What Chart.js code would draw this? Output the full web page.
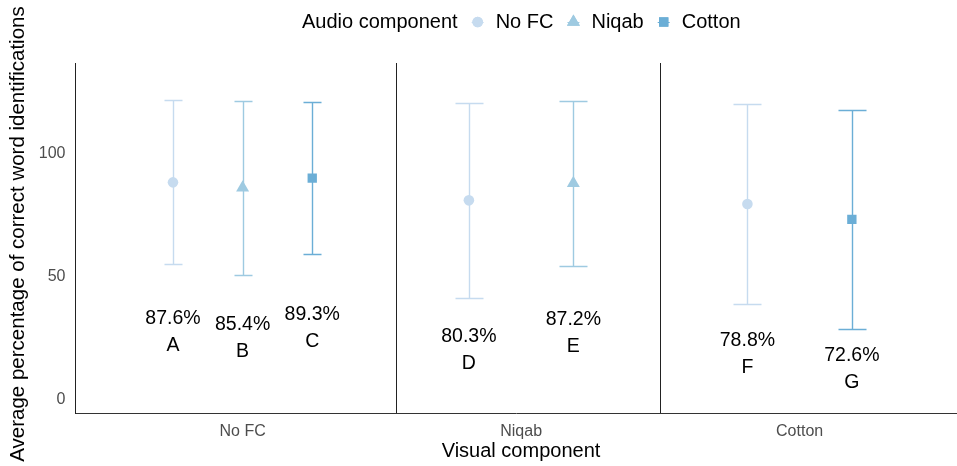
<!DOCTYPE html>
<html>
<head>
<meta charset="utf-8">
<script src="https://cdn.jsdelivr.net/npm/chart.js@4/dist/chart.umd.min.js"></script>
<style>
  html, body { margin: 0; padding: 0; background: #ffffff; }
  #chart { display: block; }
</style>
</head>
<body>
<canvas id="chart" width="957" height="466"></canvas>
<script>
// Categories
const visualCategories = ['No FC', 'Niqab', 'Cotton'];
const audioGroups = ['No FC', 'Niqab', 'Cotton'];

// One entry per cell (visual x audio) that exists in the study
const cellVisual = [0, 0, 0, 1, 1, 2, 2];
const cellAudio = [0, 1, 2, 0, 1, 0, 2];
const cellMean = [87.6, 85.4, 89.3, 80.3, 87.2, 78.8, 72.6];
const cellSd = [33.3, 35.3, 30.9, 39.6, 33.4, 40.7, 44.5];
const cellLetter = ['A', 'B', 'C', 'D', 'E', 'F', 'G'];

// Axis ticks and divider lines
const yTicks = [0, 50, 100];
const separatorPositions = [1.55, 2.5];

const groupColors = ['#c6dbef', '#9ecae1', '#6baed6'];
const groupStyles = ['circle', 'triangle', 'rect'];
const groupRadius = [5.3, 7.5, 6.6];
const FONT = '"Liberation Sans", Arial, sans-serif';
const DODGE = 0.75;
const ERR_WIDTH = 0.2;

// dodge position for each cell, like ggplot position_dodge
function dodgeInfo(i) {
    const v = cellVisual[i];
    const members = [];
    cellVisual.forEach((cv, j) => { if (cv === v) members.push(j); });
    const n = members.length;
    const k = members.indexOf(i);
    return { x: v + 1 + (k - (n - 1) / 2) * (DODGE / n), n: n };
}

const datasets = audioGroups.map((name, g) => {
    const pts = [];
    cellAudio.forEach((a, i) => {
        if (a === g) pts.push({ x: dodgeInfo(i).x, y: cellMean[i], cell: i });
    });
    return {
        label: name,
        data: pts,
        pointStyle: groupStyles[g],
        pointRadius: groupRadius[g],
        pointBackgroundColor: groupColors[g],
        pointBorderColor: groupColors[g],
        pointBorderWidth: 0,
        showLine: false
    };
});

const errorBars = {
    id: 'errorBars',
    beforeDatasetsDraw(chart) {
        const { ctx, scales: { x, y } } = chart;
        ctx.save();
        ctx.lineWidth = 1.4;
        cellMean.forEach((m, i) => {
            const d = dodgeInfo(i);
            const px = Math.round(x.getPixelForValue(d.x)) + 0.5;
            const half = Math.round(x.getPixelForValue(ERR_WIDTH / 2 / d.n) - x.getPixelForValue(0));
            const top = Math.round(y.getPixelForValue(m + cellSd[i])) + 0.5;
            const bot = Math.round(y.getPixelForValue(m - cellSd[i])) + 0.5;
            ctx.strokeStyle = groupColors[cellAudio[i]];
            ctx.beginPath();
            ctx.moveTo(px, top); ctx.lineTo(px, bot);
            ctx.moveTo(px - half, top); ctx.lineTo(px + half, top);
            ctx.moveTo(px - half, bot); ctx.lineTo(px + half, bot);
            ctx.stroke();
        });
        ctx.restore();
    }
};

const decorations = {
    id: 'decorations',
    afterDraw(chart) {
        const { ctx, chartArea, scales: { x, y } } = chart;
        ctx.save();

        // panel dividers
        ctx.strokeStyle = '#222';
        ctx.lineWidth = 1;
        separatorPositions.forEach(v => {
            const px = Math.round(x.getPixelForValue(v)) + 0.5;
            ctx.beginPath();
            ctx.moveTo(px, chartArea.top);
            ctx.lineTo(px, chartArea.bottom);
            ctx.stroke();
        });

        // value + letter labels under each bar
        ctx.fillStyle = '#000';
        ctx.font = '19.5px ' + FONT;
        ctx.textAlign = 'center';
        ctx.textBaseline = 'middle';
        cellMean.forEach((m, i) => {
            const px = x.getPixelForValue(dodgeInfo(i).x);
            const py = y.getPixelForValue(m - 61);
            ctx.fillText(m.toFixed(1) + '%', px, py - 13.5);
            ctx.fillText(cellLetter[i], px, py + 13.5);
        });

        // axis titles
        ctx.font = '20px ' + FONT;
        ctx.fillText('Visual component', 521, 451);
        ctx.save();
        ctx.translate(18, 234);
        ctx.rotate(-Math.PI / 2);
        ctx.font = '20.5px ' + FONT;
        ctx.fillText('Average percentage of correct word identifications', 0, 0);
        ctx.restore();

        // legend
        const ly = 22;
        let lx = 302;
        ctx.textAlign = 'left';
        ctx.fillText('Audio component', lx, ly);
        lx += ctx.measureText('Audio component').width;
        audioGroups.forEach((name, g) => {
            const cx = lx + 20;
            ctx.strokeStyle = groupColors[g];
            ctx.beginPath();
            ctx.moveTo(cx - 6, ly + 0.5);
            ctx.lineTo(cx + 6, ly + 0.5);
            ctx.stroke();
            ctx.fillStyle = groupColors[g];
            Chart.helpers.drawPoint(ctx, { pointStyle: groupStyles[g], radius: groupRadius[g], borderWidth: 0 }, cx, ly);
            ctx.fill();
            ctx.fillStyle = '#000';
            const tx = cx + 18;
            ctx.fillText(name, tx, ly);
            lx = tx + ctx.measureText(name).width;
        });

        ctx.restore();
    }
};

const chart = new Chart(document.getElementById('chart'), {
    type: 'scatter',
    data: { datasets: datasets },
    options: {
        responsive: false,
        animation: false,
        devicePixelRatio: 1,
        layout: { autoPadding: false, padding: { top: 63, right: 0, bottom: 0, left: 0 } },
        plugins: {
            legend: { display: false },
            tooltip: { enabled: false }
        },
        scales: {
            x: {
                type: 'linear',
                min: 0.4,
                max: 3.565,
                grid: { display: false, drawTicks: false },
                border: { display: true, color: '#333', width: 1 },
                afterBuildTicks: s => { s.ticks = [1, 2, 3].map(v => ({ value: v })); },
                afterFit: s => { s.height = 53; s.paddingLeft = 0; s.paddingRight = 0; },
                ticks: {
                    autoSkip: false,
                    maxRotation: 0,
                    padding: 9,
                    color: '#4d4d4d',
                    font: { family: FONT, size: 16 },
                    callback: v => visualCategories[v - 1]
                }
            },
            y: {
                min: -6.1,
                max: 136.1,
                grid: { display: false, drawTicks: false },
                border: { display: true, color: '#222', width: 1 },
                afterBuildTicks: s => { s.ticks = yTicks.map(v => ({ value: v })); },
                afterFit: s => { s.width = 75.5; s.paddingTop = 0; s.paddingBottom = 0; },
                ticks: {
                    padding: 10,
                    labelOffset: 1.5,
                    color: '#4d4d4d',
                    font: { family: FONT, size: 16 }
                }
            }
        }
    },
    plugins: [errorBars, decorations]
});
</script>
</body>
</html>
